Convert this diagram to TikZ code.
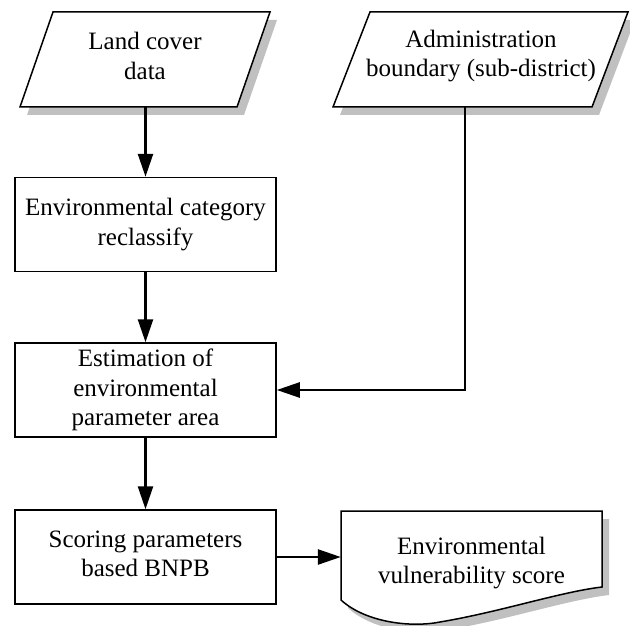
\documentclass[tikz,border=0pt]{standalone}
\usepackage{fontspec}
\setmainfont{Liberation Serif}
\usetikzlibrary{arrows.meta}
\definecolor{shade}{HTML}{C0C0C0}
\begin{document}
\begin{tikzpicture}[x=1pt,y=-1pt,
  txt/.style={align=center,font=\fontsize{25}{29.5}\selectfont},
  procbox/.style={txt,draw,line width=1.5pt,fill=white,minimum width=261pt,minimum height=94pt,inner sep=0pt},
  outline/.style={draw=black,line width=1.5pt,fill=white},
  shadowfill/.style={fill=shade,draw=none},
  flow/.style={line width=2.5pt,-{Triangle[length=23pt,width=15pt]}}]
\useasboundingbox (0,0) rectangle (630,626);

% input: land cover data
\fill[shadowfill,shift={(7pt,-8pt)}] (53,12) -- (270,12) -- (237,107) -- (20,107) -- cycle;
\path[outline] (53,12) -- (270,12) -- (237,107) -- (20,107) -- cycle;
\node[txt] (lc) at (145,56) {Land cover\\data};
\coordinate (lcb) at (145.5,107);

% input: administration boundary
\fill[shadowfill,shift={(7pt,-8pt)}] (370,12) -- (628,12) -- (592,107) -- (333,107) -- cycle;
\path[outline] (370,12) -- (628,12) -- (592,107) -- (333,107) -- cycle;
\node[txt] (ad) at (481,56) {Administration\\boundary (sub-district)};
\coordinate (adb) at (465,107);

% process steps
\node[procbox] (b2) at (145.5,224.5) {Environmental category\\reclassify};
\node[procbox] (b3) at (145.5,390) {Estimation of\\environmental\\parameter area};
\node[procbox] (b4) at (145.5,557) {};
\node[txt] (b4text) at (145.5,554) {Scoring parameters\\based BNPB};

% output document
\fill[shadowfill,shift={(7pt,-8pt)}] (341,511) -- (602,511) -- (602,587)
  .. controls (560,592) and (500,612) .. (440,622)
  .. controls (410,628) and (365,622) .. (341,600) -- cycle;
\path[outline] (341,511) -- (602,511) -- (602,587)
  .. controls (560,592) and (500,612) .. (440,622)
  .. controls (410,628) and (365,622) .. (341,600) -- cycle;
\node[txt,minimum width=261pt,minimum height=89pt,inner sep=0pt] (doc) at (471.5,555.5) {};
\node[txt] (doctext) at (471.5,563) {Environmental\\vulnerability score};

% connectors
\draw[flow] (lcb) -- (b2.north);
\draw[flow] (b2.south) -- (b3.north);
\draw[flow] (b3.south) -- (b4.north);
\draw[flow] (adb) |- (b3.east);
\draw[flow] (b4.east) -- (b4.east -| doc.west);
\end{tikzpicture}
\end{document}
